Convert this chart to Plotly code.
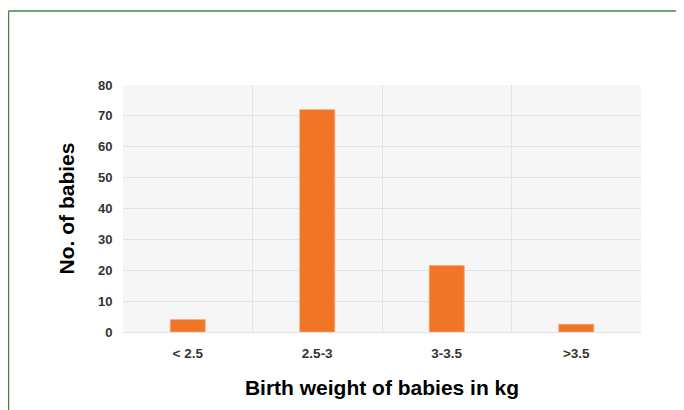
import plotly.graph_objects as go

# birth weight groups and number of babies
weight_groups = ['< 2.5', '2.5-3', '3-3.5', '>3.5']
babies = [4, 72, 21.5, 2.5]

fig = go.Figure()
fig.add_trace(go.Bar(
    x=weight_groups,
    y=babies,
    marker=dict(color='#f07527', line=dict(color='#f5a26f', width=0.8)),
    showlegend=False
))

# green frame round the figure (top and left edges visible)
frame = dict(color='#3d8a4f', width=1.5)
fig.add_shape(type='line', xref='paper', yref='paper',
              x0=-0.221, x1=1.2, y0=1.2996, y1=1.2996, line=frame)
fig.add_shape(type='line', xref='paper', yref='paper',
              x0=-0.221, x1=-0.221, y0=1.2996, y1=-0.4, line=frame)

fig.update_layout(
    width=684, height=410,
    margin=dict(l=115, r=51, t=77, b=86),
    paper_bgcolor='white',
    plot_bgcolor='#f6f6f6',
    bargap=0.73,
    font=dict(family='Arial, Liberation Sans', color='#333333'),
    xaxis=dict(
        title=dict(text='<b>Birth weight of babies in kg</b>',
                   font=dict(size=21, color='black'), standoff=20),
        tickfont=dict(size=13.5),
        tickprefix='<b>', ticksuffix='</b>',
        tickson='boundaries', showgrid=True, gridcolor='#e3e3e3',
        ticks='outside', ticklen=10, tickcolor='rgba(0,0,0,0)',
        ticklabelstandoff=9,
        showline=True, linecolor='#e3e3e3'
    ),
    yaxis=dict(
        title=dict(text='<b>No. of babies</b>',
                   font=dict(size=21, color='black'), standoff=17),
        range=[0, 80], dtick=10,
        tickfont=dict(size=13),
        tickprefix='<b>', ticksuffix='</b>',
        showgrid=True, gridcolor='#e3e3e3', zeroline=False,
        ticks='outside', ticklen=7, tickcolor='rgba(0,0,0,0)'
    )
)

fig.write_html("out.html")
